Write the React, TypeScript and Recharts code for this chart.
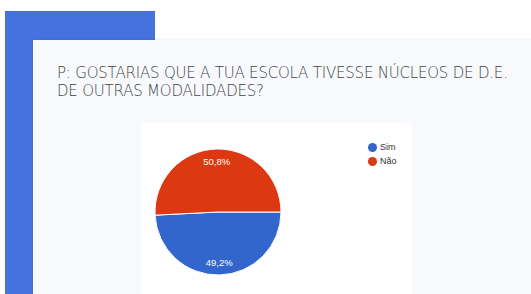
import React from "react";
import { PieChart, Pie, Cell, Legend } from "recharts";

const categories = ["Sim", "Não"];
const values = [49.2, 50.8];
const colors = ["#3366cc", "#dc3912"];
const titleLines = [
  "P: GOSTARIAS QUE A TUA ESCOLA TIVESSE NÚCLEOS DE D.E.",
  "DE OUTRAS MODALIDADES?",
];

const data = categories.map((name, i) => ({ name, value: values[i] }));
const RADIAN = Math.PI / 180;

const renderLabel = (props: any) => {
  const { cx, cy, midAngle, outerRadius, value } = props;
  const r = outerRadius * 0.8;
  const x = cx + r * Math.cos(-midAngle * RADIAN);
  const y = cy + r * Math.sin(-midAngle * RADIAN);
  return (
    <text
      x={x}
      y={y}
      fill="#ffffff"
      textAnchor="middle"
      dominantBaseline="central"
      fontSize={9.5}
      fontFamily="Arial, 'Liberation Sans', sans-serif"
    >
      {value.toFixed(1).replace(".", ",") + "%"}
    </text>
  );
};

const renderLegend = (props: any) => {
  const payload = [...(props.payload || [])].sort(
    (a: any, b: any) => categories.indexOf(a.value) - categories.indexOf(b.value)
  );
  return (
    <div>
      {payload.map((entry: any, i: number) => (
        <div
          key={i}
          style={{ display: "flex", alignItems: "center", height: 14 }}
        >
          <svg width={9} height={9} style={{ marginRight: 3 }}>
            <circle cx={4.5} cy={4.5} r={4.5} fill={entry.color} />
          </svg>
          <span
            style={{
              fontSize: 9,
              color: "#333",
              fontFamily: "Arial, 'Liberation Sans', sans-serif",
            }}
          >
            {entry.value}
          </span>
        </div>
      ))}
    </div>
  );
};

export default function App() {
  return (
    <div
      style={{
        position: "fixed",
        left: 0,
        top: 0,
        width: 531,
        height: 294,
        background: "#ffffff",
        overflow: "hidden",
      }}
    >
      <div
        style={{
          position: "absolute",
          left: 5,
          top: 11,
          width: 150,
          height: 290,
          background: "#4672e0",
        }}
      />
      <div
        style={{
          position: "absolute",
          left: 33,
          top: 40,
          width: 510,
          height: 270,
          background: "#f7f9fd",
          boxShadow: "0 -1px 2px rgba(0,0,0,0.06)",
        }}
      />
      <div
        style={{
          position: "absolute",
          left: 57,
          top: 64,
          fontFamily: "'DejaVu Sans', sans-serif",
          fontWeight: 200,
          fontSize: 15,
          lineHeight: "18px",
          color: "#444444",
          letterSpacing: -0.2,
          whiteSpace: "nowrap",
        }}
      >
        {titleLines.map((t, i) => (
          <div key={i}>{t}</div>
        ))}
      </div>
      <div
        style={{
          position: "absolute",
          left: 141,
          top: 123,
          width: 271,
          height: 180,
          background: "#ffffff",
        }}
      >
        <PieChart width={271} height={171}>
          <Pie
            data={data}
            dataKey="value"
            nameKey="name"
            cx={72}
            cy={84}
            outerRadius={63}
            startAngle={0}
            endAngle={-360}
            stroke="#ffffff"
            strokeWidth={1}
            label={renderLabel}
            labelLine={false}
            isAnimationActive={false}
          >
            {data.map((d, i) => (
              <Cell key={d.name} fill={colors[i]} />
            ))}
          </Pie>
          <Legend
            content={renderLegend}
            layout="vertical"
            wrapperStyle={{ position: "absolute", left: 227, top: 17, width: 50 }}
          />
        </PieChart>
      </div>
    </div>
  );
}
